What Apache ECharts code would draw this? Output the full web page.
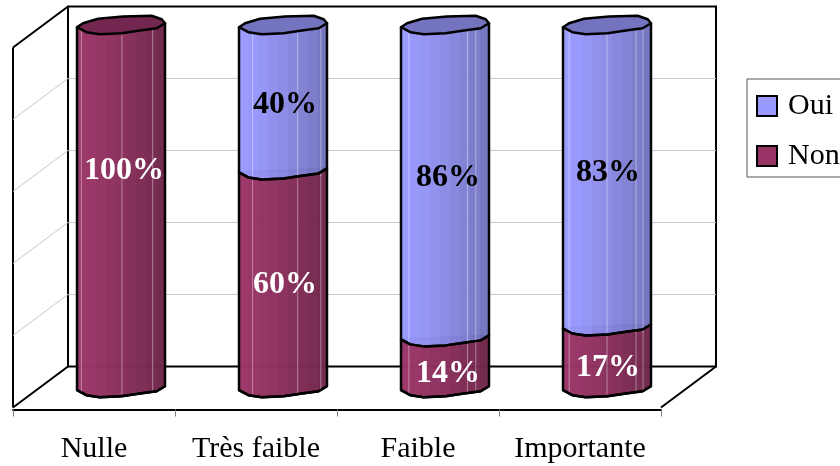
<!DOCTYPE html>
<html><head><meta charset="utf-8">
<style>html,body{margin:0;padding:0;background:#fff;overflow:hidden}#c{width:840px;height:466px}</style>
<script src="https://cdn.jsdelivr.net/npm/echarts@6/dist/echarts.min.js"></script>
</head><body><div id="c"></div>
<script>
const categories = ['Nulle', 'Très faible', 'Faible', 'Importante'];
const oui = [0, 40, 86, 83];
const non = [100, 60, 14, 17];
const tickValues = [0, 20, 40, 60, 80, 100];

// layout only (not data)
const nonLabelNudge = [-36, 6, 11, 11];
const ouiLabelNudge = [0, 7, -3, -3];
const labelDx = [3, 2, 3, 1];
const sheen = [[.05, .51, .86], [.155, .667, .93], [.09, .755, .85], [.07, .5, .83, .91]];
const lower = [[-43.8,2.2],[-34.5,7.2],[-21.2,9.2],[.5,8.2],[18.8,5.5],[35.5,3.2],[43.8,-1.8]];
const upper = [[40.5,-5.8],[30.5,-9.2],[2,-8.5],[-22.8,-6.2],[-37.8,-1.8]];
const FONT = '"Liberation Serif","Times New Roman",serif';

function bands(c0, c1) {
  const mix = t => {
    const p = s => [1,3,5].map(i => parseInt(s.substr(i,2),16));
    const a = p(c0), b = p(c1);
    return 'rgb(' + a.map((v,i)=>Math.round(v+(b[i]-v)*t)).join(',') + ')';
  };
  const stops = []; const n = 9;
  for (let i = 0; i < n; i++) {
    const col = mix(Math.pow(i/(n-1), 1.3));
    stops.push({offset: i/n, color: col}, {offset: (i+1)/n, color: col});
  }
  return stops;
}

function cylinder(shades, capColor, textColor, nudge) {
  return function (params, api) {
    const i = api.value(0);
    const v = api.value(2), base = api.value(1);
    if (!v) return;
    const b = api.coord([i, base]), t = api.coord([i, base + v]);
    const hw = api.size([1, 0])[0] * 44 / 162, s = hw / 43.8;
    const pts = [];
    lower.forEach(p => pts.push([b[0]+p[0]*s, b[1]+p[1]]));
    pts.push([t[0]+lower[6][0]*s, t[1]+lower[6][1]]);
    pts.push([t[0]+lower[0][0]*s, t[1]+lower[0][1]]);
    const left = b[0]-hw;
    const children = [{
      type: 'polygon', shape: {points: pts},
      style: {
        fill: new echarts.graphic.LinearGradient(0,0,1,0,bands(shades[0],shades[1])),
        stroke: '#000', lineWidth: 2.5, lineJoin: 'round', opacity: .97
      }
    }];
    sheen[i].forEach(f => {
      const x = left + f*2*hw;
      children.push({type:'line', shape:{x1:x,y1:t[1]+4,x2:x,y2:b[1]+6},
        style:{stroke:'rgba(255,255,255,.4)',lineWidth:1}});
    });
    children.push({
      type: 'polyline', shape: {points: lower.map(p => [b[0]+p[0]*s, b[1]+p[1]])},
      style: {fill:'none', stroke:'#000', lineWidth:2.5, lineJoin:'round'}
    });
    if (base + v >= 100) {
      const cap = lower.concat(upper).map(p => [t[0]+p[0]*s, t[1]+p[1]]);
      children.push({type:'polygon', shape:{points:cap},
        style:{fill:capColor, stroke:'#000', lineWidth:2.5, lineJoin:'round'}});
    }
    const mid = api.coord([i, base + v/2]);
    children.push({type:'text', z2: 100,
      style:{text:v+'%', x: mid[0]+labelDx[i], y: mid[1]+nudge[i], align:'center', verticalAlign:'middle',
        font:'bold 32px '+FONT, fill:textColor}});
    return {type:'group', children};
  };
}

function walls(params, api) {
  const tick = api.value(0);
  const c = params.coordSys, y = api.coord([0, tick])[1];
  const dx = -55, dy = 41;
  const children = [];
  const edge = tick === 0 || tick === 100;
  children.push({type:'line', shape:{x1:c.x,y1:y,x2:c.x+dx,y2:y+dy},
    style:{stroke: edge ? '#000' : '#c8c8c8', lineWidth: edge ? 2 : 1}});
  if (tick === 0) {
    children.push({type:'line', shape:{x1:c.x+c.width,y1:y,x2:c.x+c.width+dx,y2:y+dy},
      style:{stroke:'#000',lineWidth:2}});
    children.push({type:'line', shape:{x1:c.x+dx,y1:c.y+dy,x2:c.x+dx,y2:y+dy},
      style:{stroke:'#000',lineWidth:2}});
  }
  return {type:'group', children};
}

const chart = echarts.init(document.getElementById('c'), null, {renderer:'canvas'});
const cumul = non.map((v,i)=>[i, 0, v]);
const stacked = oui.map((v,i)=>[i, non[i], v]);
const hiddenCat = gi => ({type:'category', gridIndex:gi, data:categories, show:false});
const hiddenVal = gi => ({type:'value', gridIndex:gi, min:0, max:100, interval:20, show:false});

chart.setOption({
  animation: false,
  backgroundColor: '#fff',
  grid: [
    {left:68, top:6.5, width:648, height:360, show:true, borderColor:'#000', borderWidth:2, backgroundColor:'transparent'},
    {left:13, top:46, width:648, height:363.5, show:false},
    {left:40, top:25, width:648, height:363, show:false}
  ],
  xAxis: [
    hiddenCat(0),
    {type:'category', gridIndex:1, data:categories, position:'bottom',
      axisLine:{show:true, lineStyle:{color:'#000', width:2}},
      axisTick:{show:true, length:7, alignWithLabel:false, lineStyle:{color:'#808080', width:1}},
      axisLabel:{color:'#000', fontFamily:FONT, fontSize:30, margin:25, interval:0, hideOverlap:false}},
    hiddenCat(2)
  ],
  yAxis: [
    {type:'value', gridIndex:0, min:0, max:100, interval:20,
      axisLine:{show:false}, axisTick:{show:false}, axisLabel:{show:false},
      splitLine:{show:true, showMinLine:false, showMaxLine:false, lineStyle:{color:'#c8c8c8', width:1}}},
    hiddenVal(1),
    hiddenVal(2)
  ],
  legend: {
    orient:'vertical', left:747, top:79, padding:[12,40,6,9], itemWidth:20, itemHeight:20, itemGap:20,
    borderColor:'#555', borderWidth:1, backgroundColor:'#fff',
    textStyle:{color:'#000', fontFamily:FONT, fontSize:30, padding:[6,0,0,6]},
    itemStyle:{borderColor:'#000', borderWidth:2},
    data:[{name:'Oui', icon:'rect'},{name:'Non', icon:'rect'}]
  },
  series: [
    {type:'custom', name:'walls', xAxisIndex:0, yAxisIndex:0, data:tickValues.map(v=>[v]),
      encode:{y:0}, renderItem:walls, silent:true, z:1, clip:false},
    {type:'custom', name:'Non', xAxisIndex:2, yAxisIndex:2, data:cumul, encode:{x:0,y:[1,2]},
      itemStyle:{color:'#993366'}, z:3, clip:false,
      renderItem:cylinder(['#993366','#6f2549'],'#732650','#fff',nonLabelNudge)},
    {type:'custom', name:'Oui', xAxisIndex:2, yAxisIndex:2, data:stacked, encode:{x:0,y:[1,2]},
      itemStyle:{color:'#9999FF'}, z:4, clip:false,
      renderItem:cylinder(['#9999FF','#7373BF'],'#7373BF','#000',ouiLabelNudge)}
  ]
});
</script></body></html>
